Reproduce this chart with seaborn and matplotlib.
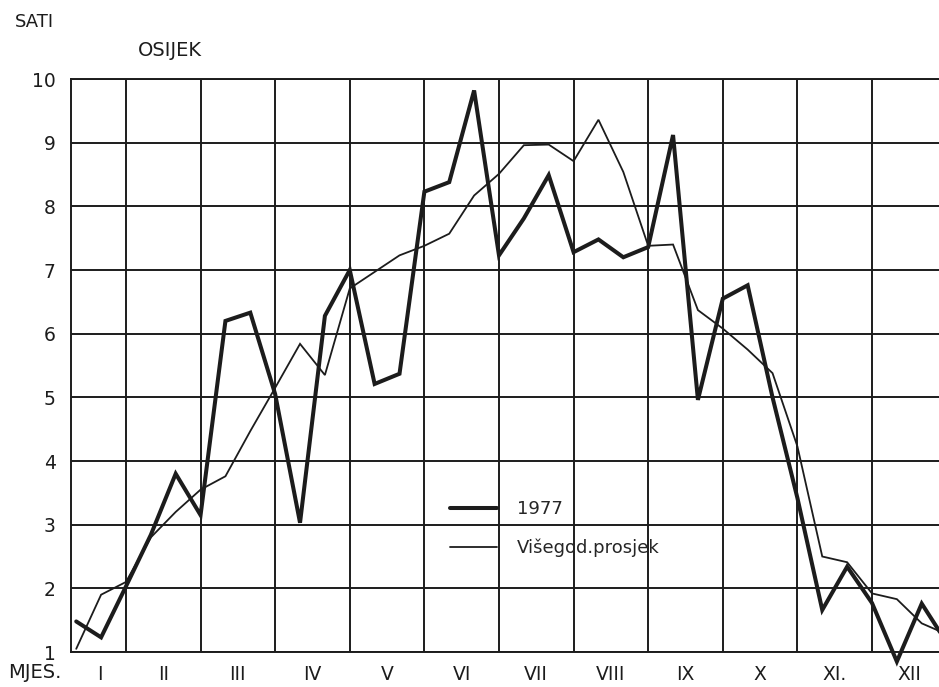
"""
Trajanje sijanja sunca po dekadama - Osijek, 1977. i visegodisnji prosjek.
"""

import matplotlib
matplotlib.use("Agg")
import matplotlib.pyplot as plt
import pandas as pd
import seaborn as sns

# dekade u godini (3 po mjesecu)
dekade = list(range(1, 37))

# sati sijanja sunca - 1977
sati_1977 = [1.48, 1.23, 2.03, 2.84, 3.80, 3.15, 6.20, 6.33, 5.05, 3.03, 6.28, 7.00,
             5.21, 5.37, 8.23, 8.38, 9.82, 7.23, 7.81, 8.49, 7.28, 7.48, 7.20, 7.36,
             9.12, 4.96, 6.55, 6.76, 5.00, 3.42, 1.66, 2.34, 1.77, 0.85, 1.76, 1.15]

# visegodisnji prosjek
sati_prosjek = [1.05, 1.90, 2.10, 2.80, 3.20, 3.55, 3.76, 4.47, 5.15, 5.84, 5.35, 6.71,
                6.97, 7.23, 7.38, 7.57, 8.17, 8.51, 8.96, 8.97, 8.71, 9.36, 8.54, 7.38,
                7.40, 6.37, 6.08, 5.75, 5.38, 4.23, 2.50, 2.41, 1.92, 1.83, 1.45, 1.28]

mjeseci = ["I", "II", "III", "IV", "V", "VI", "VII", "VIII", "IX", "X", "XI.", "XII"]
sati_oznake = [1, 2, 3, 4, 5, 6, 7, 8, 9, 10]

CRNA = "#1c1c1c"


def crtaj_graf():
    sns.set_style("white")
    plt.rcParams["font.family"] = ["DejaVu Sans"]

    fig = plt.figure(figsize=(9.39, 6.87), dpi=100)
    ax = fig.add_axes([71 / 939, 35 / 687, 875.6 / 939, 573 / 687])

    df = pd.DataFrame({"dekada": dekade, "1977": sati_1977,
                       "prosjek": sati_prosjek})
    sns.lineplot(data=df, x="dekada", y="1977", color=CRNA, linewidth=2.9,
                 label="1977", ax=ax)
    sns.lineplot(data=df, x="dekada", y="prosjek", color=CRNA, linewidth=1.3,
                 label="Višegod.prosjek", ax=ax)
    for linija in ax.lines:
        linija.set_clip_on(False)
        linija.set_solid_joinstyle("miter")

    ax.set_xlim(0.79, 36)
    ax.set_ylim(1, 10)

    # granice mjeseci -> mreza, sredine mjeseci -> oznake
    granice = [3 * k for k in range(1, 12)]
    sredine = [1.95] + [3 * k + 1.5 for k in range(1, 12)]
    ax.set_xticks(granice, minor=True)
    ax.set_xticks(sredine)
    ax.set_xticklabels(mjeseci, fontsize=13.5)
    ax.set_yticks(sati_oznake)
    ax.set_yticklabels([str(s) for s in sati_oznake], fontsize=13.5)
    ax.tick_params(axis="x", which="both", length=0, pad=9, colors=CRNA)
    ax.tick_params(axis="y", length=0, pad=11, colors=CRNA)

    ax.grid(False)
    ax.grid(True, which="minor", axis="x", color=CRNA, linewidth=1.4)
    ax.grid(True, which="major", axis="y", color=CRNA, linewidth=1.4)
    ax.set_axisbelow(True)

    for strana in ["left", "top", "bottom"]:
        ax.spines[strana].set_color(CRNA)
        ax.spines[strana].set_linewidth(1.4)
    ax.spines["right"].set_visible(False)

    ax.set_xlabel("")
    ax.set_ylabel("")

    ax.legend(loc="upper left", bbox_to_anchor=(0.433, 0.265), frameon=False,
              handlelength=2.6, handletextpad=1.1, labelspacing=1.12,
              borderpad=0, borderaxespad=0, fontsize=13)

    fig.text(15 / 939, 1 - 22 / 687, "SATI", fontsize=13, color=CRNA,
             ha="left", va="center")
    fig.text(138 / 939, 1 - 50 / 687, "OSIJEK", fontsize=14, color=CRNA,
             ha="left", va="center")
    fig.text(8 / 939, 1 - 672 / 687, "MJES.", fontsize=14, color=CRNA,
             ha="left", va="center")

    fig.savefig("out.png", dpi=100, facecolor="white")


if __name__ == "__main__":
    crtaj_graf()
